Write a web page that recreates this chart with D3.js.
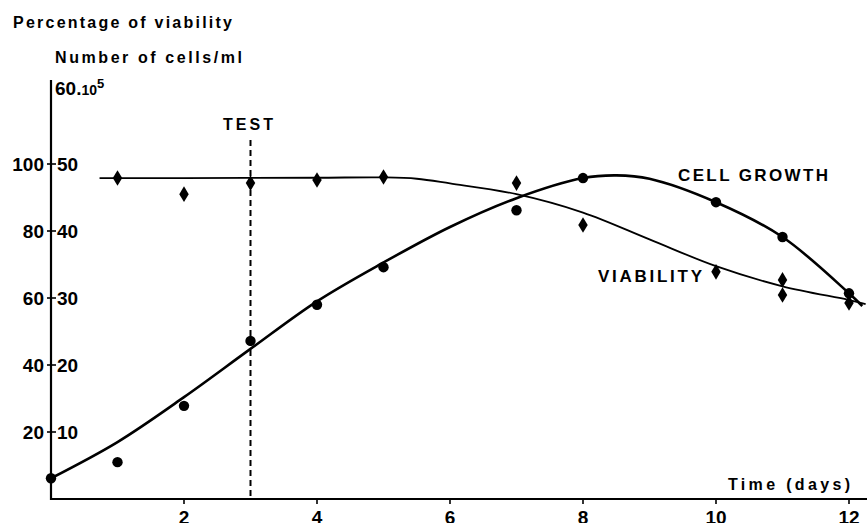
<!DOCTYPE html>
<html>
<head>
<meta charset="utf-8">
<script src="https://cdn.jsdelivr.net/npm/d3@7"></script>
<style>
  body { margin: 0; background: #fff; }
  text { font-family: "Liberation Sans", Arial, sans-serif; font-weight: bold; fill: #000; }
  .num { font-family: "Liberation Sans Narrow", "Liberation Sans", Arial, sans-serif; font-size: 19px; }
</style>
</head>
<body>
<div class="chart"></div>
<script>
// measured points
const growthDays = [0, 1, 2, 3, 4, 5, 7, 8, 10, 11, 12];
const growthCells = [3.1, 5.5, 13.9, 23.6, 29, 34.6, 43.1, 47.9, 44.3, 39.1, 30.7];
const viabDays = [1, 2, 3, 4, 5, 7, 8, 10, 11, 11, 12];
const viabPct = [95.8, 91, 94.3, 95.2, 96.1, 94.3, 81.8, 67.8, 65.4, 60.9, 58.5];

// hand drawn fitted curves
const growthCurveDays = [0, 1, 2, 3, 4, 5, 6, 7, 8, 8.5, 9, 10, 11, 12, 12.2];
const growthCurveCells = [3.1, 8.5, 15.2, 22.4, 29.5, 35.3, 40.6, 44.9, 47.9, 48.3, 47.8, 44.3, 39.1, 30.7, 28.8];
const viabCurveDays = [0.73, 2, 4, 5, 5.5, 6, 7, 8, 9, 10, 11, 12, 12.25];
const viabCurvePct = [95.8, 95.8, 95.9, 96.0, 95.6, 94.2, 91.0, 85.5, 77.5, 69.5, 63.5, 59.4, 58.2];

const xTicks = [2, 4, 6, 8, 10, 12];
const cellTicks = [10, 20, 30, 40, 50];
const pctTicks = [20, 40, 60, 80, 100];
const testDay = 3;

const width = 867, height = 523;
const svg = d3.select(".chart").append("svg")
    .attr("width", width)
    .attr("height", height);

const x = d3.scaleLinear().domain([0, 12]).range([51, 849]);
const yCells = d3.scaleLinear().domain([0, 50]).range([499, 164]);
const yPct = d3.scaleLinear().domain([0, 100]).range([499, 164]);

// axes lines
svg.append("line").attr("x1", 51).attr("x2", 51).attr("y1", 80).attr("y2", 500)
    .attr("stroke", "#000").attr("stroke-width", 2.2);
svg.append("line").attr("x1", 50).attr("x2", 867).attr("y1", 499).attr("y2", 499)
    .attr("stroke", "#000").attr("stroke-width", 2);

// y ticks (cross marks on the axis)
svg.selectAll(".ytick").data(cellTicks).enter().append("line")
    .attr("x1", 47).attr("x2", 56)
    .attr("y1", d => yCells(d)).attr("y2", d => yCells(d))
    .attr("stroke", "#000").attr("stroke-width", 1.6);

svg.selectAll(".pctlab").data(pctTicks).enter().append("text")
    .attr("class", "num")
    .attr("x", 44).attr("y", d => yPct(d) + 7)
    .attr("text-anchor", "end")
    .text(d => d);
svg.selectAll(".celllab").data(cellTicks).enter().append("text")
    .attr("class", "num")
    .attr("x", 57).attr("y", d => yCells(d) + 7)
    .text(d => d);

// x ticks
svg.selectAll(".xtick").data(xTicks).enter().append("line")
    .attr("x1", d => x(d)).attr("x2", d => x(d))
    .attr("y1", 499).attr("y2", 504)
    .attr("stroke", "#000").attr("stroke-width", 1.6);
svg.selectAll(".xlab").data(xTicks).enter().append("text")
    .attr("class", "num")
    .attr("x", d => x(d)).attr("y", 524)
    .attr("text-anchor", "middle")
    .text(d => d);

// titles
function label(txt, px, py, size, len) {
    return svg.append("text").attr("x", px).attr("y", py)
        .attr("font-size", size)
        .attr("textLength", len).attr("lengthAdjust", "spacing")
        .text(txt);
}
label("Percentage of viability", 13, 28, 16, 219);
label("Number of cells/ml", 55, 63, 16, 187);
label("TEST", 223, 130, 16, 50);
label("CELL GROWTH", 678, 181, 17, 150);
label("VIABILITY", 598, 282, 17, 104);
label("Time (days)", 728, 490, 16, 122);

const maxLabel = svg.append("text").attr("class", "num").attr("x", 55).attr("y", 95);
maxLabel.append("tspan").text("60.");
maxLabel.append("tspan").attr("font-size", 14).text("10");
maxLabel.append("tspan").attr("font-size", 13).attr("dy", -7).text("5");

// test line
svg.append("line")
    .attr("x1", x(testDay)).attr("x2", x(testDay))
    .attr("y1", 140).attr("y2", 499)
    .attr("stroke", "#000").attr("stroke-width", 2)
    .attr("stroke-dasharray", "6,4");

// curves
const growthLine = d3.line()
    .x((d, i) => x(growthCurveDays[i]))
    .y(d => yCells(d))
    .curve(d3.curveCatmullRom);
svg.append("path").datum(growthCurveCells)
    .attr("d", growthLine)
    .attr("fill", "none").attr("stroke", "#000").attr("stroke-width", 2.6);

const viabLine = d3.line()
    .x((d, i) => x(viabCurveDays[i]))
    .y(d => yPct(d))
    .curve(d3.curveCatmullRom);
svg.append("path").datum(viabCurvePct)
    .attr("d", viabLine)
    .attr("fill", "none").attr("stroke", "#000").attr("stroke-width", 1.8);

// points
svg.selectAll(".dot").data(growthCells).enter().append("circle")
    .attr("cx", (d, i) => x(growthDays[i]))
    .attr("cy", d => yCells(d))
    .attr("r", 5.2)
    .attr("fill", "#000");

const diamond = d3.symbol().type(d3.symbolDiamond).size(70);
svg.selectAll(".dia").data(viabPct).enter().append("path")
    .attr("d", diamond)
    .attr("transform", (d, i) => `translate(${x(viabDays[i])},${yPct(d)}) scale(1.05,1)`)
    .attr("fill", "#000");
</script>
</body>
</html>
